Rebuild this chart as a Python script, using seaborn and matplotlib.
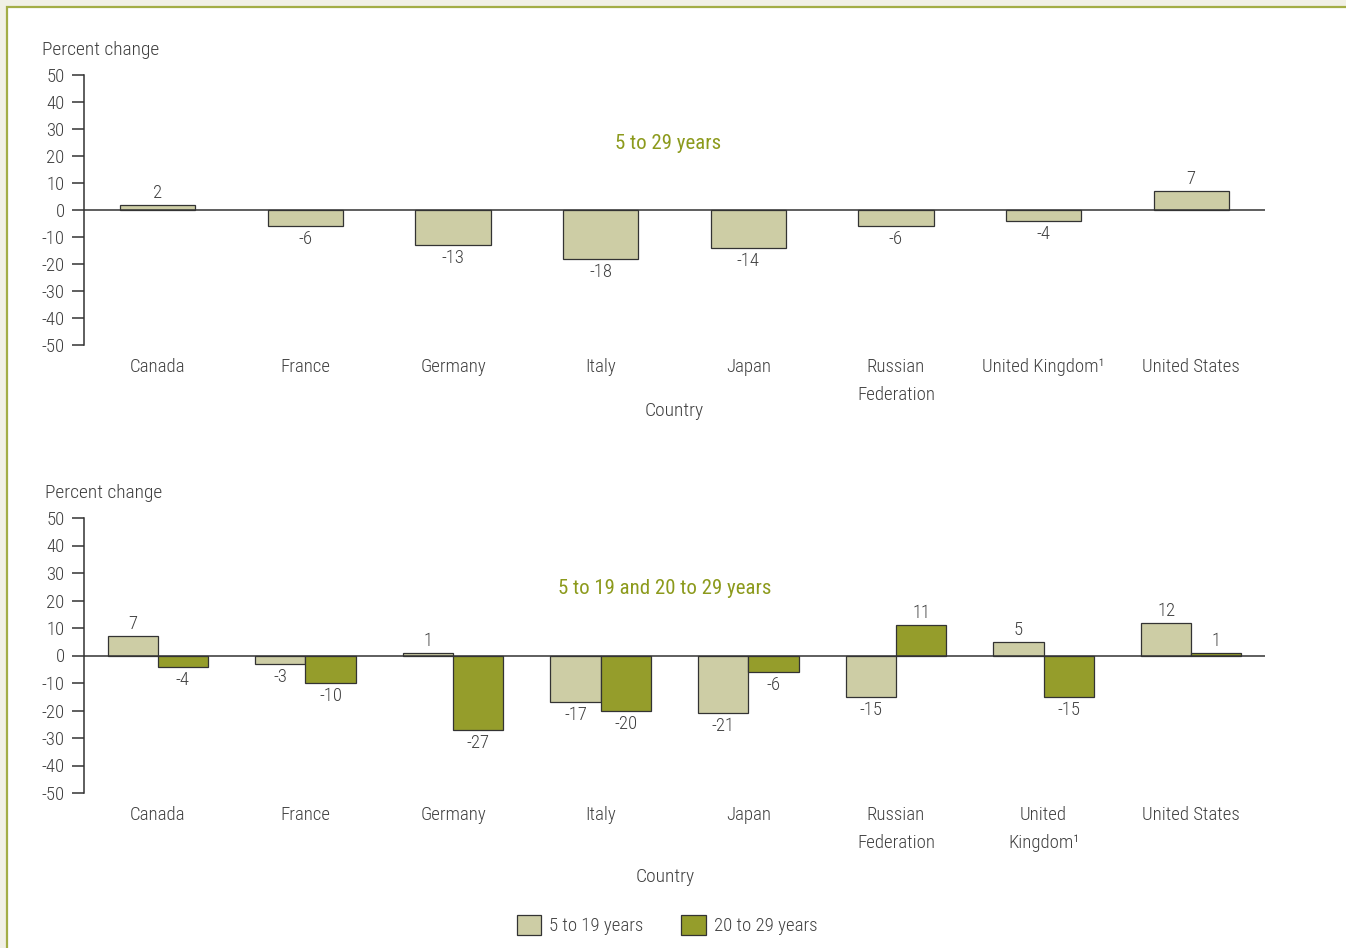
import matplotlib
matplotlib.use("Agg")
import matplotlib.pyplot as plt
from matplotlib.patches import Patch, Rectangle
import seaborn as sns
import pandas as pd

countries_top = ["Canada", "France", "Germany", "Italy", "Japan",
                 "Russian\nFederation", "United Kingdom¹", "United States"]
countries_bot = ["Canada", "France", "Germany", "Italy", "Japan",
                 "Russian\nFederation", "United\nKingdom¹", "United States"]
pct_5_29 = [2, -6, -13, -18, -14, -6, -4, 7]
pct_5_19 = [7, -3, 1, -17, -21, -15, 5, 12]
pct_20_29 = [-4, -10, -27, -20, -6, 11, -15, 1]
series_names = ["5 to 19 years", "20 to 29 years"]
yticks = [50, 40, 30, 20, 10, 0, -10, -20, -30, -40, -50]

LIGHT = "#cdcda5"
DARK = "#959d2b"
EDGE = "#333333"
TEXT = "#404040"
TITLE = "#8c9a1c"

sns.set_theme(style="white")
plt.rcParams["font.family"] = ["Roboto Condensed", "Liberation Sans Narrow",
                               "DejaVu Sans"]
plt.rcParams["font.stretch"] = "condensed"
plt.rcParams["font.weight"] = "light"
plt.rcParams["axes.labelweight"] = "light"
plt.rcParams["text.color"] = TEXT

fig = plt.figure(figsize=(13.46, 9.48), dpi=100)
fig.patch.set_facecolor("#f1f0e5")
fig.add_artist(Rectangle((7 / 1346, -0.1), 1.2, 1.1 - 7 / 948,
                         transform=fig.transFigure, facecolor="white",
                         edgecolor="#a3ad45", lw=1.6, zorder=-10))

W = 1346
H = 948


def ax_rect(x0, x1, ytop, ybot):
    return [x0 / W, 1 - ybot / H, (x1 - x0) / W, (ybot - ytop) / H]


ax1 = fig.add_axes(ax_rect(84, 1265, 75, 345))
ax2 = fig.add_axes(ax_rect(84, 1265, 518, 793))

df_top = pd.DataFrame({"country": countries_top, "value": pct_5_29})
sns.barplot(data=df_top, x="country", y="value", color=LIGHT, width=0.51,
            edgecolor=EDGE, linewidth=0.9, saturation=1, ax=ax1)

df_bot = pd.DataFrame({
    "country": countries_bot * 2,
    "value": pct_5_19 + pct_20_29,
    "group": [series_names[0]] * 8 + [series_names[1]] * 8,
})
sns.barplot(data=df_bot, x="country", y="value", hue="group",
            hue_order=series_names, palette=[LIGHT, DARK], width=0.68,
            edgecolor=EDGE, linewidth=0.9, saturation=1, legend=False, ax=ax2)


def style(ax, title, tx, ty, lx, ly, cx, cy):
    ax.set_xlim(-0.5, 7.5)
    ax.set_ylim(-50, 50)
    ax.set_yticks(yticks)
    ax.set_yticklabels([str(v) for v in yticks])
    for s in ["top", "right", "bottom"]:
        ax.spines[s].set_visible(False)
    ax.spines["left"].set_color(EDGE)
    ax.spines["left"].set_linewidth(1.1)
    ax.axhline(0, color=EDGE, lw=1.1, zorder=5)
    ax.tick_params(axis="y", which="both", left=True, length=9, width=1.1,
                   color=EDGE, labelsize=13.5, labelcolor=TEXT, pad=5, direction="out")
    ax.tick_params(axis="x", length=0, labelsize=13.5, labelcolor=TEXT, pad=9)
    for lab in ax.get_xticklabels():
        lab.set_linespacing(1.75)
    ax.set_ylabel("Percent change", rotation=0, fontsize=14, color=TEXT,
                  ha="left", va="center", fontweight="light")
    ax.yaxis.set_label_coords(lx, ly)
    ax.set_xlabel("Country", fontsize=14, color=TEXT, va="center",
                  fontweight="light")
    ax.xaxis.set_label_coords(cx, cy)
    ax.text(tx, ty, title, transform=ax.transAxes, ha="center", va="center",
            fontsize=15, color=TITLE, fontweight="normal")
    ax.grid(False)
    ax.set_facecolor("none")
    for p in ax.patches:
        h = p.get_height()
        xc = p.get_x() + p.get_width() / 2
        if h >= 0:
            ax.annotate(f"{h:g}", (xc, h), xytext=(0, 2), textcoords="offset points",
                        ha="center", va="bottom", fontsize=13.5, color=TEXT)
        else:
            ax.annotate(f"{h:g}", (xc, h), xytext=(0, -3), textcoords="offset points",
                        ha="center", va="top", fontsize=13.5, color=TEXT)


style(ax1, "5 to 29 years", 0.4945, 0.748, -0.0356, 1.093, 0.5, -0.244)
style(ax2, "5 to 19 and 20 to 29 years", 0.492, 0.745, -0.033, 1.091, 0.492, -0.305)

handles = [Patch(facecolor=LIGHT, edgecolor=EDGE, lw=0.9, label=series_names[0]),
           Patch(facecolor=DARK, edgecolor=EDGE, lw=0.9, label=series_names[1])]
fig.legend(handles=handles, loc="center", bbox_to_anchor=(667 / W, 1 - 925 / H),
           ncol=2, frameon=False, fontsize=13.5, handlelength=1.3, handleheight=1.3,
           handletextpad=0.45, columnspacing=2.0, labelcolor=TEXT)

fig.savefig("out.png", dpi=100, facecolor=fig.get_facecolor())
